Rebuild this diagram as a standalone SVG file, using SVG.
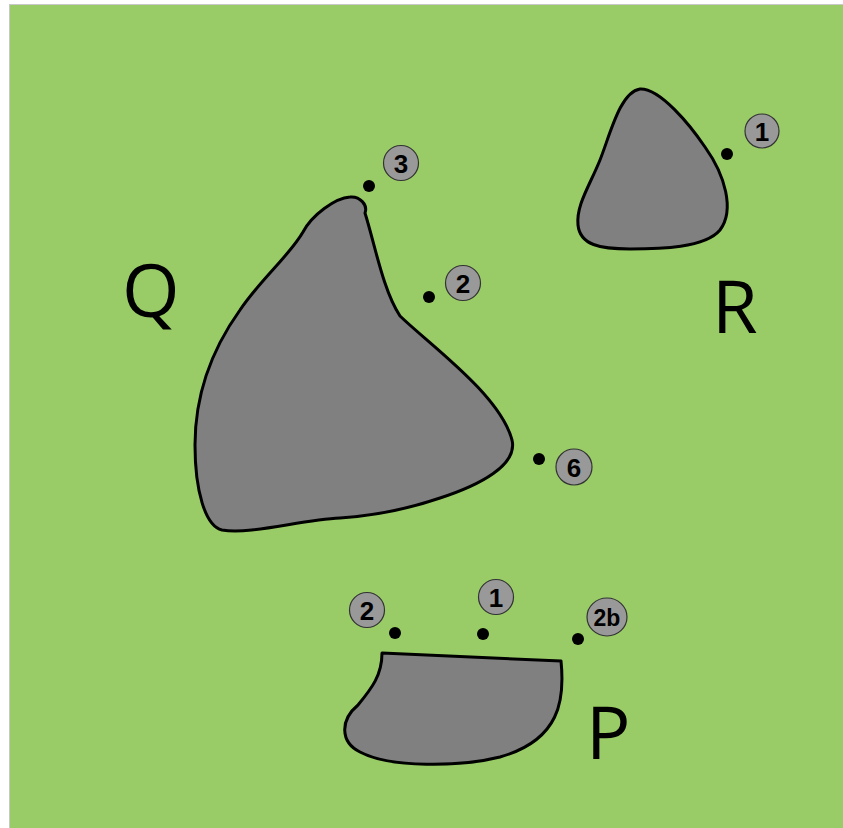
<svg xmlns="http://www.w3.org/2000/svg" width="843" height="828" viewBox="0 0 843 828">
<style>
.bg{fill:#99cc66;stroke:#c8c8c8;stroke-width:1}
.rock{fill:#808080;stroke:#000;stroke-width:3;stroke-linejoin:round}
.dot{fill:#000}
.badge{fill:#999;stroke:#333;stroke-width:1.2}
.num{font-family:"Liberation Sans",Arial,sans-serif;font-weight:bold;font-size:26px;fill:#000;text-anchor:middle}
.big{font-family:"Open Sans","Noto Sans",sans-serif;font-size:74px;fill:#000}
</style>
<rect class="bg" x="9.5" y="4.5" width="840" height="830"/>
<g id="Q">
<path class="rock" d="M365,213 C375,245 383,290 400,316 C430,345 500,395 512,440 C518,465 480,485 440,498 C405,510 370,516 340,518 C300,520 250,535 222,530 C205,526 195,490 195,445 C195,390 215,345 240,310 C260,280 290,255 303,232 C312,215 335,198 350,197 C360,196 368,205 365,213 Z"/>
<text class="big" x="122" y="317">Q</text>
</g>
<g id="R">
<path class="rock" d="M640,89 C660,88 690,125 705,147 C725,175 735,210 720,230 C705,248 660,249 630,249 C600,249 580,245 578,225 C576,205 590,185 600,160 C610,135 620,92 640,89 Z"/>
<text class="big" x="712" y="333">R</text>
</g>
<g id="P">
<path class="rock" d="M382,653 L561,661 C565,700 560,740 500,757 C460,767 390,768 360,752 C340,742 340,720 358,705 C372,688 382,675 382,653 Z"/>
<text class="big" x="586" y="759">P</text>
</g>
<g id="markers">
<g id="m-Q3"><circle class="dot" cx="369" cy="186" r="6"/><circle class="badge" cx="401" cy="163" r="17.5"/><text class="num" x="401" y="172.5">3</text></g>
<g id="m-Q2"><circle class="dot" cx="429" cy="297" r="6"/><circle class="badge" cx="463" cy="283" r="17.5"/><text class="num" x="463" y="292.5">2</text></g>
<g id="m-Q6"><circle class="dot" cx="539" cy="459" r="6"/><circle class="badge" cx="574" cy="467" r="18"/><text class="num" x="574" y="476.5">6</text></g>
<g id="m-R1"><circle class="dot" cx="727" cy="154" r="6"/><circle class="badge" cx="762" cy="131" r="17"/><text class="num" x="762" y="140.5">1</text></g>
<g id="m-P2"><circle class="dot" cx="395" cy="633" r="6"/><circle class="badge" cx="367" cy="610" r="17.5"/><text class="num" x="367" y="619.5">2</text></g>
<g id="m-P1"><circle class="dot" cx="483" cy="634" r="6"/><circle class="badge" cx="496" cy="597" r="17.5"/><text class="num" x="496" y="606.5">1</text></g>
<g id="m-P2b"><circle class="dot" cx="578" cy="639" r="6"/><ellipse class="badge" cx="607" cy="617" rx="20" ry="19"/><text class="num" x="607" y="625.5" style="font-size:23px">2b</text></g>
</g>
</svg>
